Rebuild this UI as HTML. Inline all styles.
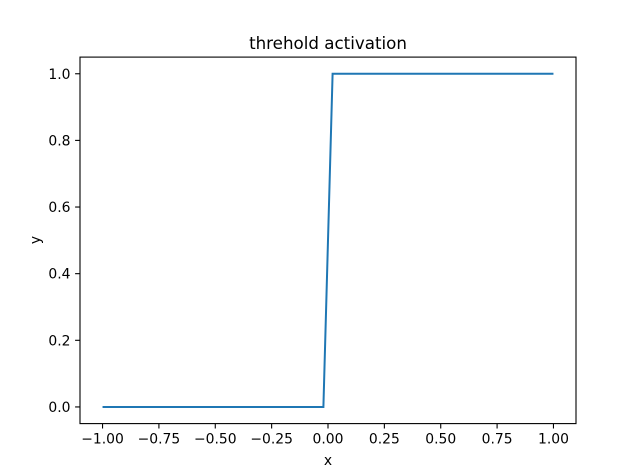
<!DOCTYPE html>
<html><head><meta charset="utf-8"><style>
html,body{margin:0;padding:0;background:#fff;}
svg{display:block;font-family:"DejaVu Sans","Liberation Sans",sans-serif;}
</style></head><body>
<svg id="chart" width="640" height="476" xmlns="http://www.w3.org/2000/svg">
<rect width="640" height="476" fill="#fff"/>
<polyline id="line" fill="none" stroke="#1f77b4" stroke-width="2"/>
<rect x="80" y="57.1" width="496" height="366.5" fill="none" stroke="#000" stroke-width="1.1"/>
<g id="ticks"></g>
<text x="328" y="49" font-size="16.7" text-anchor="middle">threhold activation</text>
<text x="328" y="465" font-size="13.9" text-anchor="middle">x</text>
<text x="0" y="0" font-size="13.9" text-anchor="middle" transform="translate(40,240) rotate(-90)">y</text>
</svg>
<script>
const xValues = [-1, -0.0204, 0.0204, 1];
const yValues = [0, 0, 1, 1];
const xTicks = [-1, -0.75, -0.5, -0.25, 0, 0.25, 0.5, 0.75, 1];
const xTickLabels = ["−1.00","−0.75","−0.50","−0.25","0.00","0.25","0.50","0.75","1.00"];
const yTicks = [0, 0.2, 0.4, 0.6, 0.8, 1.0];
const yTickLabels = ["0.0","0.2","0.4","0.6","0.8","1.0"];

const L=80,R=576,T=57.1,B=423.6;
const xmin=-1.1,xmax=1.1,ymin=-0.05,ymax=1.05;
function sx(v){return L+(v-xmin)/(xmax-xmin)*(R-L);}
function sy(v){return B-(v-ymin)/(ymax-ymin)*(B-T);}
const NS="http://www.w3.org/2000/svg";
document.getElementById('line').setAttribute('points',xValues.map((x,i)=>sx(x)+','+sy(yValues[i])).join(' '));
const g=document.getElementById('ticks');
xTicks.forEach((t,i)=>{
  const l=document.createElementNS(NS,'line');
  l.setAttribute('x1',sx(t));l.setAttribute('x2',sx(t));l.setAttribute('y1',B);l.setAttribute('y2',B+4.9);
  l.setAttribute('stroke','#000');l.setAttribute('stroke-width','1.1');
  
  
  g.appendChild(l);
  const tx=document.createElementNS(NS,'text');
  tx.setAttribute('x',sx(t));tx.setAttribute('y',B+20);tx.setAttribute('font-size','13.9');tx.setAttribute('text-anchor','middle');
  tx.textContent=xTickLabels[i];
  
  
  g.appendChild(tx);
});
yTicks.forEach((t,i)=>{
  const l=document.createElementNS(NS,'line');
  l.setAttribute('x1',L-4.9);l.setAttribute('x2',L);l.setAttribute('y1',sy(t));l.setAttribute('y2',sy(t));
  l.setAttribute('stroke','#000');l.setAttribute('stroke-width','1.1');
  
  
  g.appendChild(l);
  const tx=document.createElementNS(NS,'text');
  tx.setAttribute('x',L-9.5);tx.setAttribute('y',sy(t)+5);tx.setAttribute('font-size','13.9');tx.setAttribute('text-anchor','end');
  tx.textContent=yTickLabels[i];
  
  
  g.appendChild(tx);
});
</script>
</body></html>
